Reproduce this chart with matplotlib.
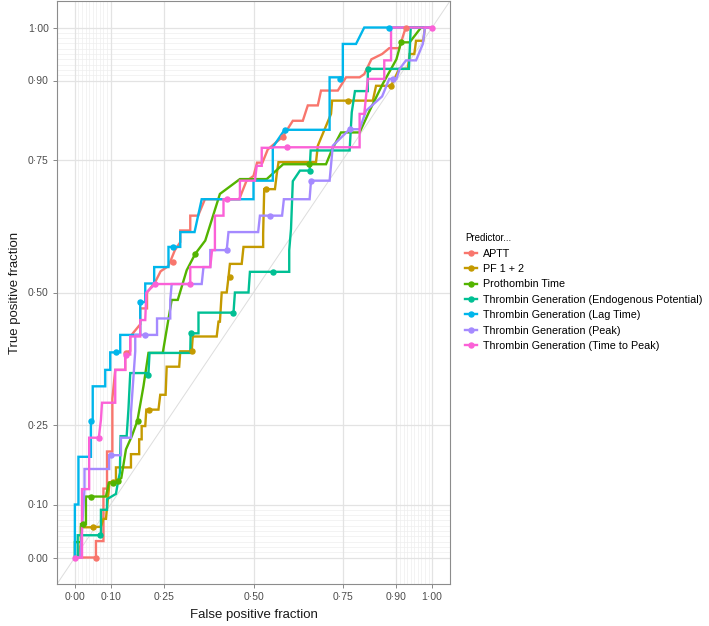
import matplotlib
matplotlib.use('Agg')
import matplotlib.pyplot as plt
from matplotlib.lines import Line2D
import numpy as np

plt.rcParams['font.family'] = ['Liberation Sans', 'DejaVu Sans']

# ---- data: ROC curve vertices (false positive fraction, true positive fraction) ----
predictors = [
    'APTT', 'PF 1 + 2', 'Prothombin Time',
    'Thrombin Generation (Endogenous Potential)',
    'Thrombin Generation (Lag Time)',
    'Thrombin Generation (Peak)',
    'Thrombin Generation (Time to Peak)',
]
colors = ['#F8766D', '#C49A00', '#53B400', '#00C094', '#00B6EB', '#A58AFF', '#FB61D7']

aptt_fpf = [0, 0.059, 0.059, 0.08, 0.08, 0.09, 0.09, 0.105, 0.105, 0.113, 0.141, 0.141, 0.155, 0.155,
            0.183, 0.183, 0.202, 0.202, 0.225, 0.24, 0.262, 0.28, 0.295, 0.295, 0.323, 0.323, 0.345,
            0.364, 0.46, 0.48, 0.5, 0.51, 0.525, 0.54, 0.582, 0.61, 0.638, 0.652, 0.68, 0.689, 0.736,
            0.759, 0.797, 0.81, 0.83, 0.86, 0.88, 0.908, 0.926, 1.0]
aptt_tpf = [0, 0, 0.031, 0.031, 0.13, 0.13, 0.2, 0.2, 0.3, 0.354, 0.354, 0.386, 0.39, 0.417,
            0.44, 0.47, 0.47, 0.5, 0.52, 0.54, 0.55, 0.58, 0.595, 0.617, 0.617, 0.645, 0.645,
            0.676, 0.676, 0.71, 0.72, 0.745, 0.745, 0.77, 0.794, 0.824, 0.824, 0.853, 0.853, 0.881, 0.881,
            0.906, 0.906, 0.912, 0.94, 0.95, 0.961, 0.961, 1.0, 1.0]

pf_fpf = [0, 0.01, 0.017, 0.017, 0.04, 0.073, 0.08, 0.087, 0.097, 0.115, 0.115, 0.157, 0.157, 0.18,
          0.18, 0.187, 0.187, 0.197, 0.2, 0.234, 0.239, 0.254, 0.257, 0.292, 0.295, 0.327, 0.33, 0.397,
          0.402, 0.406, 0.411, 0.425, 0.43, 0.434, 0.467, 0.472, 0.527, 0.527, 0.53, 0.56, 0.565, 0.57,
          0.675, 0.68, 0.717, 0.72, 0.834, 0.843, 0.885, 0.908, 0.932, 0.937, 0.95, 0.955, 0.975, 0.98, 1.0]
pf_tpf = [0, 0, 0.029, 0.057, 0.057, 0.058, 0.073, 0.073, 0.142, 0.142, 0.17, 0.17, 0.195, 0.195,
          0.223, 0.223, 0.248, 0.248, 0.279, 0.279, 0.307, 0.307, 0.36, 0.36, 0.389, 0.389, 0.417, 0.417,
          0.445, 0.445, 0.5, 0.5, 0.529, 0.554, 0.554, 0.586, 0.586, 0.611, 0.695, 0.695, 0.723, 0.746,
          0.746, 0.777, 0.837, 0.862, 0.862, 0.89, 0.89, 0.922, 0.922, 0.95, 0.95, 0.975, 0.975, 1.0, 1.0]

pt_fpf = [0, 0, 0.017, 0.017, 0.031, 0.031, 0.087, 0.095, 0.12, 0.13, 0.143, 0.16, 0.175, 0.192, 0.206,
          0.246, 0.271, 0.288, 0.313, 0.337, 0.365, 0.406, 0.462, 0.537, 0.583, 0.703, 0.72, 0.745,
          0.797, 0.825, 0.862, 0.9, 0.913, 0.937, 0.969, 1.0]
pt_tpf = [0, 0.029, 0.029, 0.063, 0.063, 0.115, 0.115, 0.141, 0.145, 0.15, 0.204, 0.23, 0.258, 0.323, 0.386,
          0.386, 0.486, 0.486, 0.542, 0.573, 0.598, 0.686, 0.714, 0.714, 0.742, 0.742, 0.77, 0.802,
          0.802, 0.843, 0.894, 0.94, 0.972, 0.972, 1.0, 1.0]

etp_fpf = [0, 0.008, 0.008, 0.073, 0.073, 0.09, 0.09, 0.115, 0.12, 0.126, 0.128, 0.145, 0.15, 0.155,
           0.206, 0.209, 0.323, 0.324, 0.346, 0.346, 0.444, 0.448, 0.486, 0.49, 0.6, 0.6, 0.605, 0.61,
           0.62, 0.63, 0.657, 0.66, 0.769, 0.775, 0.784, 0.82, 0.82, 0.935, 0.94, 1.0]
etp_tpf = [0, 0, 0.042, 0.042, 0.09, 0.09, 0.11, 0.12, 0.14, 0.16, 0.229, 0.229, 0.28, 0.348,
           0.348, 0.386, 0.386, 0.423, 0.423, 0.462, 0.462, 0.5, 0.5, 0.539, 0.539, 0.58, 0.62, 0.71,
           0.72, 0.73, 0.73, 0.768, 0.768, 0.84, 0.88, 0.88, 0.922, 0.922, 1.0, 1.0]

lag_fpf = [0, 0, 0.01, 0.01, 0.045, 0.045, 0.05, 0.05, 0.085, 0.085, 0.099, 0.099, 0.127, 0.127, 0.183,
           0.183, 0.197, 0.197, 0.222, 0.222, 0.262, 0.262, 0.295, 0.295, 0.335, 0.355, 0.5, 0.5, 0.554,
           0.554, 0.587, 0.694, 0.713, 0.713, 0.75, 0.75, 0.787, 0.81, 1.0]
lag_tpf = [0, 0.1, 0.1, 0.19, 0.19, 0.257, 0.257, 0.323, 0.323, 0.354, 0.354, 0.387, 0.387, 0.42, 0.42,
           0.482, 0.482, 0.517, 0.517, 0.548, 0.548, 0.586, 0.586, 0.614, 0.614, 0.676, 0.676, 0.711, 0.711,
           0.774, 0.807, 0.807, 0.807, 0.906, 0.906, 0.969, 0.969, 1.0, 1.0]

peak_fpf = [0, 0.015, 0.027, 0.027, 0.096, 0.096, 0.129, 0.129, 0.157, 0.157, 0.169, 0.169, 0.23, 0.23,
            0.267, 0.267, 0.271, 0.355, 0.36, 0.379, 0.379, 0.425, 0.43, 0.513, 0.518, 0.58, 0.585, 0.61,
            0.657, 0.661, 0.713, 0.722, 0.769, 0.797, 0.815, 0.86, 0.88, 0.9, 0.909, 0.927, 0.955, 0.974,
            0.98, 1.0]
peak_tpf = [0, 0, 0.129, 0.167, 0.167, 0.193, 0.193, 0.226, 0.226, 0.273, 0.389, 0.42, 0.42, 0.451,
            0.451, 0.486, 0.516, 0.516, 0.548, 0.548, 0.58, 0.58, 0.614, 0.614, 0.645, 0.645, 0.676, 0.676,
            0.676, 0.711, 0.711, 0.777, 0.808, 0.808, 0.843, 0.87, 0.903, 0.903, 0.922, 0.938, 0.938, 0.969,
            1.0, 1.0]

ttp_fpf = [0, 0.02, 0.02, 0.04, 0.04, 0.067, 0.073, 0.076, 0.113, 0.113, 0.141, 0.141, 0.155, 0.155,
           0.183, 0.183, 0.197, 0.2, 0.225, 0.323, 0.323, 0.379, 0.384, 0.392, 0.392, 0.416, 0.416, 0.462,
           0.462, 0.504, 0.509, 0.523, 0.523, 0.55, 0.56, 0.797, 0.797, 0.81, 0.82, 0.866, 0.866, 0.885,
           0.885, 1.0]
ttp_tpf = [0, 0, 0.129, 0.129, 0.226, 0.226, 0.26, 0.292, 0.292, 0.354, 0.354, 0.383, 0.383, 0.417,
           0.417, 0.448, 0.448, 0.5, 0.516, 0.516, 0.548, 0.548, 0.58, 0.58, 0.645, 0.645, 0.676, 0.676,
           0.711, 0.711, 0.739, 0.739, 0.773, 0.773, 0.774, 0.774, 0.837, 0.837, 0.903, 0.903, 0.938, 0.938,
           1.0, 1.0]

# cutoff markers on each curve
aptt_pts = ([0.06, 0.144, 0.274, 0.582, 0.926], [0.0, 0.386, 0.557, 0.794, 1.0])
pf_pts = ([0.05, 0.106, 0.208, 0.327, 0.434, 0.535, 0.764, 0.885], [0.058, 0.142, 0.278, 0.389, 0.529, 0.695, 0.862, 0.889])
pt_pts = ([0.022, 0.045, 0.106, 0.12, 0.178, 0.337, 0.655, 0.913], [0.063, 0.115, 0.141, 0.145, 0.257, 0.573, 0.742, 0.972])
etp_pts = ([0.07, 0.206, 0.324, 0.444, 0.555, 0.657, 0.82], [0.042, 0.345, 0.423, 0.462, 0.539, 0.73, 0.922])
lag_pts = ([0.045, 0.116, 0.183, 0.274, 0.587, 0.743, 0.88], [0.257, 0.387, 0.482, 0.586, 0.807, 0.903, 1.0])
peak_pts = ([0.101, 0.197, 0.425, 0.546, 0.661, 0.769, 0.89], [0.193, 0.42, 0.58, 0.645, 0.711, 0.808, 0.903])
ttp_pts = ([0.0, 0.067, 0.144, 0.225, 0.323, 0.425, 0.594, 1.0], [0.0, 0.226, 0.383, 0.516, 0.516, 0.676, 0.774, 1.0])

curves = [(aptt_fpf, aptt_tpf, aptt_pts), (pf_fpf, pf_tpf, pf_pts), (pt_fpf, pt_tpf, pt_pts),
          (etp_fpf, etp_tpf, etp_pts), (lag_fpf, lag_tpf, lag_pts), (peak_fpf, peak_tpf, peak_pts),
          (ttp_fpf, ttp_tpf, ttp_pts)]

breaks = [0, 0.1, 0.25, 0.5, 0.75, 0.9, 1.0]
minor = list(np.round(np.arange(0.01, 0.1, 0.01), 2)) + list(np.round(np.arange(0.91, 1.0, 0.01), 2))

fig = plt.figure(figsize=(7.09, 6.26), dpi=100)
ax = fig.add_axes([57 / 709, 42 / 626, 393 / 709, 583 / 626])
ax.set_xlim(-0.05, 1.05)
ax.set_ylim(-0.05, 1.05)

for m in minor:
    ax.axvline(m, color='#eeeeee', lw=0.5, zorder=0)
    ax.axhline(m, color='#eeeeee', lw=0.5, zorder=0)
for b in breaks:
    ax.axvline(b, color='#e3e3e3', lw=0.9, zorder=0)
    ax.axhline(b, color='#e3e3e3', lw=0.9, zorder=0)
ax.axline((0, 0), (1, 1), color='#dddddd', lw=0.7, zorder=1)

for (fx, fy, pts), c in zip(curves, colors):
    ax.plot(fx, fy, color=c, lw=1.7, zorder=3, solid_joinstyle='miter')
    ax.plot(pts[0], pts[1], 'o', color=c, ms=3.6, zorder=4)

lab = [f'{b:.2f}'.replace('.', '\u00b7') for b in breaks]
ax.set_xticks(breaks)
ax.set_xticklabels(lab)
ax.set_yticks(breaks)
ax.set_yticklabels(lab)
ax.tick_params(axis='both', colors='#888888', labelcolor='#4d4d4d', labelsize=7.5, length=3, width=0.7, pad=3)
for s in ax.spines.values():
    s.set_color('#8c8c8c')
    s.set_linewidth(0.8)
ax.set_xlabel('False positive fraction', fontsize=9.5, color='#1a1a1a', labelpad=5)
ax.set_ylabel('True positive fraction', fontsize=9.5, color='#1a1a1a', labelpad=5)

handles = [Line2D([0], [0], color=c, lw=1.7, marker='o', ms=3.6) for c in colors]
leg = fig.legend(handles, predictors, loc='upper left', bbox_to_anchor=(461 / 709, 1 - 229 / 626),
                 title='Predictor...', frameon=False, fontsize=7.75, title_fontsize=7,
                 handlelength=1.1, handletextpad=0.55, labelspacing=0.5, borderaxespad=0)
leg._legend_box.align = 'left'

fig.savefig('out.png')
